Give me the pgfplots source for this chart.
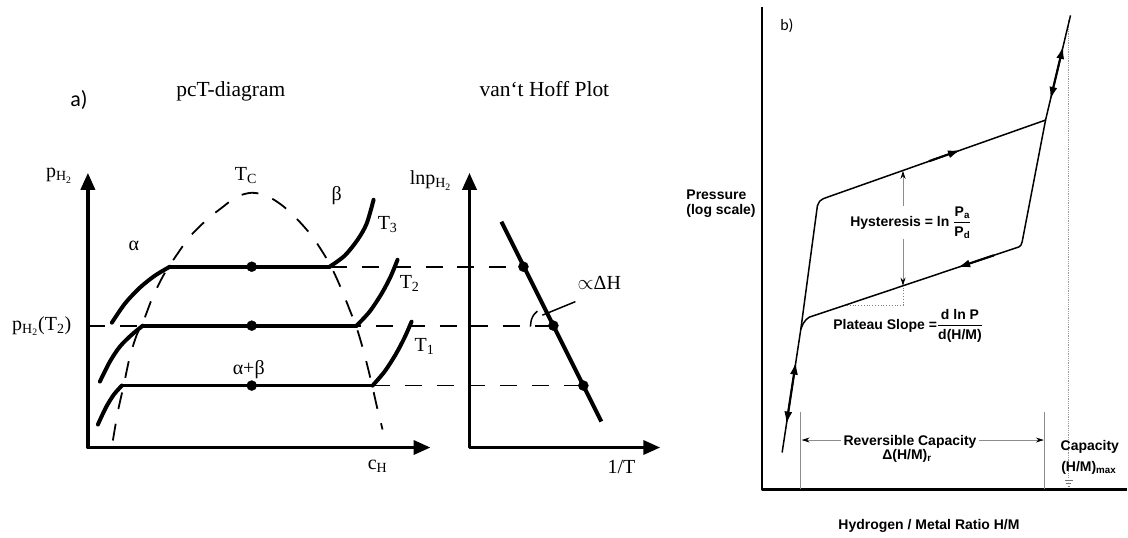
\documentclass[border=0pt]{standalone}
\usepackage{pgfplots}
\pgfplotsset{compat=1.18}
\usepackage{amsmath}
\usepackage{fontspec}
\setmainfont{Liberation Serif}
\newfontfamily\helv{Liberation Sans}
\newfontfamily\cali{Carlito}
\usetikzlibrary{arrows.meta}

\newcommand\fs[1]{\fontsize{#1}{#1}\selectfont}

\begin{document}
\begin{tikzpicture}
\begin{axis}[
  width=1128pt, height=538pt, scale only axis,
  xmin=0, xmax=1128, ymin=0, ymax=538, y dir=reverse,
  axis lines=none, clip=false,
  every axis plot/.append style={no markers, line join=round},
  thickc/.style={black, line width=4pt, line cap=round},
  dsh/.style={black, line width=1.8pt, dash pattern=on 17pt off 15pt},
  bigarr/.style={black, line width=3.5pt, {Triangle[length=17pt,width=14pt]}-{Triangle[length=17pt,width=14pt]}},
  thin/.style={black, line width=1.5pt},
  marr/.style={black, line width=2.2pt, -{Latex[length=13pt,width=8pt]}},
  darr/.style={black, line width=2.2pt, {Latex[length=13pt,width=8pt]}-{Latex[length=13pt,width=8pt]}},
  guide/.style={black!45, line width=0.8pt},
]
\path (rel axis cs:0,0) rectangle (rel axis cs:1,1);

% ---------------- (a) pcT diagram ----------------
\addplot[bigarr] coordinates {(88,173) (88,448) (431,448)};

% two-phase dome
\addplot[dsh, smooth] coordinates {
  (113,441) (118,412) (124,385) (130,357) (137,335) (143,323) (153,297)
  (164,275) (175,258) (190,237) (207,220) (222,208) (237,197) (252,193)
  (267,196) (283,206) (298,220) (312,236) (324,254) (333,270) (342,290)
  (350,310) (357,328) (363,348) (368,367) (373,388) (378,410) (383,430)};

% isotherm T3
\addplot[thickc, smooth] coordinates {(112,323) (125,304) (140,288) (155,276) (170,267)};
\addplot[thickc] coordinates {(170,267) (330,267)};
\addplot[thickc, smooth] coordinates {(330,267) (345,256) (358,240) (367,224) (374,200)};
% isotherm T2
\addplot[thickc, smooth] coordinates {(100,382) (110,362) (120,347) (132,335) (143,326)};
\addplot[thickc] coordinates {(143,326) (357,326)};
\addplot[thickc, smooth] coordinates {(357,326) (370,312) (382,294) (391,277) (398,260)};
% isotherm T1
\addplot[thickc, smooth] coordinates {(98,425) (106,408) (114,395) (122,386)};
\addplot[thickc, line width=3.5pt] coordinates {(122,386) (373,386)};
\addplot[thickc, smooth] coordinates {(373,386) (385,372) (396,355) (405,338) (412,322)};

% plateau pressures carried over to the van't Hoff plot
\addplot[dsh] coordinates {(330,267) (524,267)};
\addplot[dsh] coordinates {(88,326) (554,326)};
\addplot[dsh] coordinates {(373,386) (584,386)};

\addplot[only marks, mark=*, mark size=5pt, black] coordinates {(252,267) (252,326) (252,386)};

% ---------------- van't Hoff plot ----------------
\addplot[bigarr] coordinates {(470,173) (470,448) (661,448)};
\addplot[black, line width=4pt] coordinates {(502,222) (602,422)};
\addplot[only marks, mark=*, mark size=5pt, black] coordinates {(524,267) (554,326) (584,386)};
\addplot[black, line width=1.5pt, smooth] coordinates {(531,327) (532,320) (534.5,315) (538,311.5)};
\addplot[black, line width=1.5pt] coordinates {(543,315.5) (576,302)};

% labels (a)
\node[anchor=base west, font=\cali\fs{22}] at (axis cs:67,107) {a)};
\node[anchor=base, font=\fs{21.5}] at (axis cs:231,97) {pcT-diagram};
\node[anchor=base, font=\fs{21.5}] at (axis cs:545,97) {van‘t Hoff Plot};
\node[anchor=base west, font=\fs{20}, inner sep=0pt] at (axis cs:46,178) {p\textsubscript{H\textsubscript{2}}};
\node[anchor=base west, font=\fs{20}, inner sep=0pt] at (axis cs:235,181) {T\textsubscript{C}};
\node[font=\fs{20}, inner sep=0pt] at (axis cs:337,196) {β};
\node[anchor=base west, font=\fs{20}, inner sep=0pt] at (axis cs:378,230) {T\textsubscript{3}};
\node[font=\fs{20}, inner sep=0pt] at (axis cs:134,246) {α};
\node[anchor=base west, font=\fs{20}, inner sep=0pt] at (axis cs:400,289) {T\textsubscript{2}};
\node[anchor=base west, font=\fs{20}, inner sep=0pt] at (axis cs:12,331) {p\textsubscript{H\textsubscript{2}}(T\textsubscript{2})};
\node[anchor=base west, font=\fs{20}, inner sep=0pt] at (axis cs:415,352) {T\textsubscript{1}};
\node[anchor=base, font=\fs{20}, inner sep=0pt] at (axis cs:249,375) {α+β};
\node[anchor=base west, font=\fs{20}, inner sep=0pt] at (axis cs:368,470) {c\textsubscript{H}};
\node[anchor=base west, font=\fs{20}, inner sep=0pt] at (axis cs:410,185) {lnp\textsubscript{H\textsubscript{2}}};
\node[anchor=base west, font=\fs{20}, inner sep=0pt] at (axis cs:578,290) {$\propto$ΔH};
\node[anchor=base west, font=\fs{20}, inner sep=0pt] at (axis cs:608,474) {1/T};

% ---------------- (b) pressure-composition isotherm ----------------
\addplot[black, line width=2.5pt] coordinates {(763,7) (763,490) (1128,490)};

% guides
\addplot[guide] coordinates {(801.7,412) (801.7,490)};
\addplot[guide] coordinates {(1045.5,412) (1045.5,490)};
\addplot[black!40, line width=0.8pt, densely dotted] coordinates {(1070,20) (1070,478)};
\addplot[black!55, line width=0.7pt] coordinates {(1066,481) (1074,481)};
\addplot[black!55, line width=0.7pt] coordinates {(1067.5,484) (1072.5,484)};
\addplot[black!55, line width=0.7pt] coordinates {(1069,487) (1071,487)};
\addplot[black!50, line width=0.8pt, dotted] coordinates {(848,305.5) (904,305.5) (904,286)};

% absorption branch
\addplot[thin] coordinates {(783,453) (801.7,329.6) (818.3,206) (820.5,201.5) (824,199) (828.3,197.4) (1046.7,120.2) (1071.7,15.4)};
% desorption branch
\addplot[thin] coordinates {(801.7,329.6) (804,324) (807,320) (810,317.6) (1020,247.2) (1022,245.5) (1023.3,242) (1046.7,120.2)};

% direction arrows
\addplot[marr] coordinates {(930,161.4) (962,150.1)};
\addplot[marr] coordinates {(995,255.6) (958.3,267.9)};
\addplot[darr] coordinates {(1051.5,100) (1064.4,46)};
\addplot[darr] coordinates {(787.2,425) (796.8,362)};

% hysteresis and capacity arrows
\addplot[guide, {Stealth[black,length=8pt,width=5pt]}-{Stealth[black,length=8pt,width=5pt]}] coordinates {(904,171) (904,286)};
\addplot[guide, {Stealth[black,length=8pt,width=5pt]}-{Stealth[black,length=8pt,width=5pt]}] coordinates {(802.5,440.5) (1045,440.5)};

% labels (b)
\node[anchor=base west, font=\cali\fs{16}, inner sep=0pt] at (axis cs:781,31) {b)};
\node[anchor=base west, font=\helv\bfseries\fs{14}, inner sep=0pt] at (axis cs:687,200) {Pressure};
\node[anchor=base west, font=\helv\bfseries\fs{14}, inner sep=0pt] at (axis cs:687,215) {(log scale)};
\node[anchor=base west, font=\helv\bfseries\fs{14}, fill=white, inner sep=1pt] at (axis cs:850,226.5)
  {Hysteresis = ln $\dfrac{\text{P}_\text{a}}{\text{P}_\text{d}}$};
\node[anchor=base west, font=\helv\bfseries\fs{14}, inner sep=1pt] at (axis cs:833,329.5)
  {Plateau Slope =$\dfrac{\text{d ln P}}{\text{d(H/M)}}$};
\node[anchor=base, font=\helv\bfseries\fs{14}, fill=white, inner xsep=3pt, inner ysep=1pt] at (axis cs:911,446) {Reversible Capacity};
\node[anchor=base, font=\helv\bfseries\fs{14}, inner sep=0pt] at (axis cs:908,460) {Δ(H/M)\textsubscript{r}};
\node[anchor=base, font=\helv\bfseries\fs{14}, inner sep=0pt] at (axis cs:1091,451) {Capacity};
\node[anchor=base, font=\helv\bfseries\fs{14}, inner sep=0pt] at (axis cs:1090,472) {(H/M)\textsubscript{max}};
\node[anchor=base, font=\helv\bfseries\fs{14}, inner sep=0pt] at (axis cs:930,530) {Hydrogen / Metal Ratio H/M};
\end{axis}
\end{tikzpicture}
\end{document}
